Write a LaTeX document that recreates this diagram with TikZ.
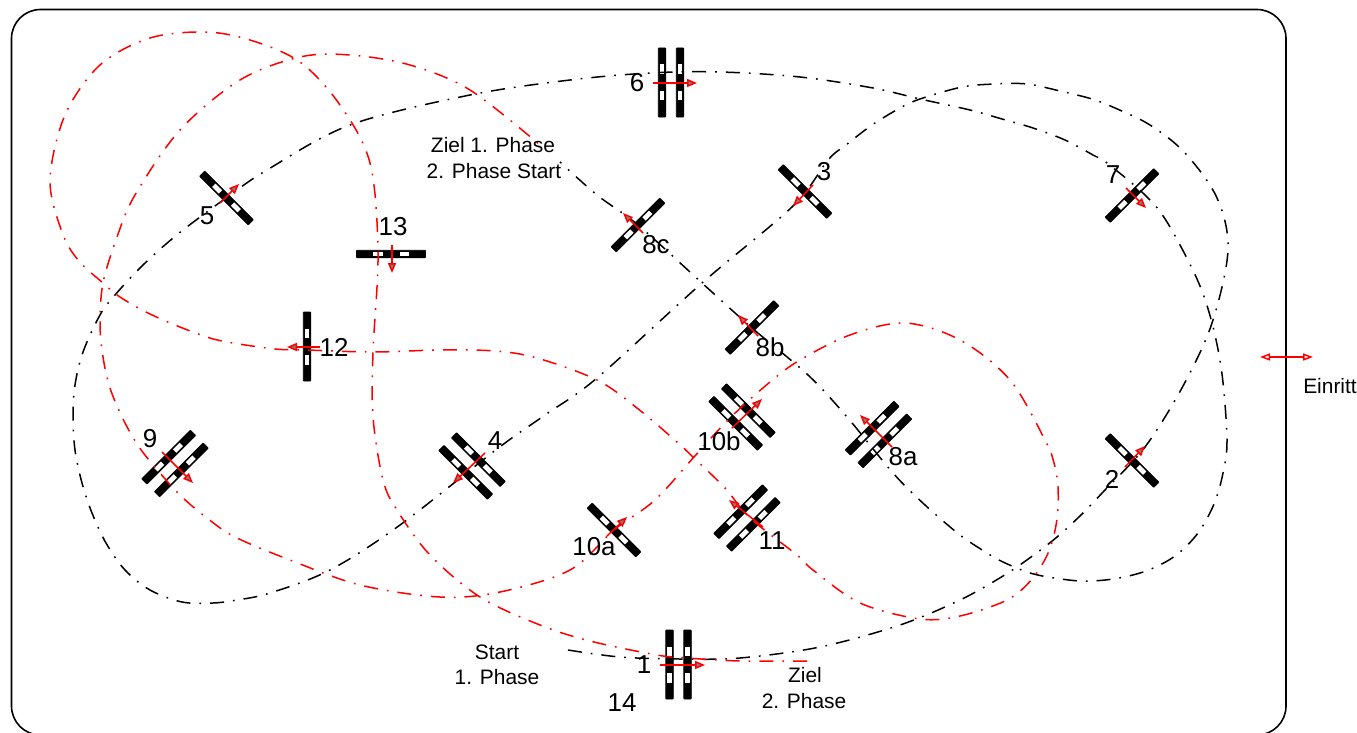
\documentclass[tikz,border=0pt]{standalone}
\usepackage{fontspec}
\setmainfont{Liberation Sans}
\usetikzlibrary{arrows.meta}
\tikzset{
  x=1bp,y=-1bp,
  route/.style={line width=1.5bp,dash pattern=on 14bp off 9bp on 1.7bp off 9bp,smooth,tension=0.55},
  gatearrow/.style={red,line width=1.5bp,-{Triangle[open,length=10bp,width=8bp,fill=gray]}},
  legendarrow/.style={red,line width=1.5bp,{Triangle[open,length=10bp,width=7bp,fill=white]}-{Triangle[open,length=10bp,width=7bp,fill=white]}},
  barbody/.style={fill=black,draw=black,line width=0.6bp,rounded corners=0.6bp,minimum width=69bp,minimum height=7.5bp,inner sep=0pt,transform shape},
  slot/.style={fill=white},
  num/.style={font=\fontsize{26}{28}\selectfont,inner sep=0pt},
  small/.style={font=\fontsize{21}{24}\selectfont,inner sep=0pt,align=center},
  pics/gatebar/.style={code={
    \node[barbody] (-bar) at (0,0) {};
    \fill[slot] (-18,-2.4) rectangle (-8.5,2.4);
    \fill[slot] (8.5,-2.4) rectangle (18,2.4);
  }},
  pics/dualgate/.style={code={
    \node[barbody] (-a) at (0,-9) {};
    \node[barbody] (-b) at (0,9) {};
    \foreach \yy in {-9,9}{
      \fill[slot] (-18,\yy-2.4) rectangle (-8.5,\yy+2.4);
      \fill[slot] (8.5,\yy-2.4) rectangle (18,\yy+2.4);
    }
  }},
}
\begin{document}
\begin{tikzpicture}
\useasboundingbox (0,0) rectangle (1357,732);
\clip (0,0) rectangle (1357,732);
\fill[white] (0,0) rectangle (1357,732);
\draw[line width=1.6bp,rounded corners=29bp] (11.5,9.5) rectangle (1286,735);

% gates
\pic[rotate=90]  (g6)   at (671,82.5)  {dualgate};
\pic[rotate=90]  (g1)   at (678.5,664.5) {dualgate};
\pic[rotate=-45] (g3)   at (805,191.5) {gatebar};
\pic[rotate=45]  (g8c)  at (638,225)   {gatebar};
\pic[rotate=45]  (g8b)  at (752,327.5) {gatebar};
\pic[rotate=45]  (g8a)  at (878.5,434.5) {dualgate};
\pic[rotate=-45] (g10b) at (742,417)   {dualgate};
\pic[rotate=45]  (g11)  at (747,518)   {dualgate};
\pic[rotate=-45] (g5)   at (226.5,198) {gatebar};
\pic[rotate=0]   (g13)  at (391,254)   {gatebar};
\pic[rotate=90]  (g12)  at (307,346.5) {gatebar};
\pic[rotate=45]  (g9)   at (175,463.5) {dualgate};
\pic[rotate=-45] (g4)   at (472,466)   {dualgate};
\pic[rotate=45]  (g7)   at (1132,195.5) {gatebar};
\pic[rotate=-45] (g2)   at (1132,460.5) {gatebar};
\pic[rotate=-45] (g10a) at (614,530)   {gatebar};

% black route
\draw[route,black] plot coordinates {
(568,650) (620,657) (680,659) (740,658) (820,647) (900,625) (960,600) (1003,576) (1031,557) (1057,537) (1082,514) (1104,491)
(1145,447) (1183,386) (1212,323) (1228,250) (1217,198) (1185,153) (1150,125) (1115,108) (1092,99) (1060,91) (1027,84) (995,84)
(962,87) (920,99) (900,108) (872,125) (846,145) (828,160) (793,206) (702,283) (597,378) (545,415) (497,449) (400,525) (330,570)
(270,593) (237,600) (213,603) (182,602) (150,590) (125,570) (106,543) (92,513) (82,483) (75,450) (73,417) (75,385) (83,352)
(100,315) (115,295) (143,265) (178,234) (226,198) (267,170) (350,125) (470,95) (570,80) (650,73) (720,72) (800,77) (873,88)
(920,99) (970,110) (1002,119) (1033,128) (1065,140) (1093,155) (1107,163) (1145,195) (1167,222) (1197,279) (1212,323) (1222,374)
(1227,440) (1223,473) (1214,504) (1198,533) (1175,556) (1146,571) (1113,579) (1081,581) (1048,577) (1027,572) (1003,562) (987,553)
(960,535) (925,505) (893,473) (847,417) (808,375) (752,328) (702,283) (638,225) (597,195) (560,162)};

% red route
\draw[route,red] plot coordinates {
(807,661) (740,661) (687,658) (657,655) (590,641) (540,625) (480,597) (430,555) (397,510) (383,480)
(373,417) (373,352) (378,253) (370,163) (340,105) (300,62) (250,40) (205,32) (150,38) (100,65)
(65,115) (50,180) (62,232) (78,260) (103,283) (120,297) (148,313) (180,327) (210,338) (233,343) (275,349) (307,350) (373,352) (440,350)
(495,351) (537,358) (597,380) (637,408) (677,442) (694,458) (725,488) (750,518) (797,555) (813,570)
(860,603) (920,619) (960,616) (1007,600) (1032,579) (1049,551) (1057,519) (1058,487) (1054,463) (1045,440) (1010,380) (960,340) (905,323)
(850,335) (800,360) (770,382) (730,418) (694,457) (655,500) (614,530) (570,570) (500,592) (440,597)
(360,585) (290,560) (235,537) (207,518) (182,497) (160,473) (139,447) (123,419) (110,388) (103,357) (100,323) (103,283) (117,237) (135,195) (180,130)
(240,80) (300,57) (350,55) (410,65) (470,90) (540,145)};

% passage arrows
\draw[gatearrow] (653,83) -- (697,83);
\draw[gatearrow] (660,665) -- (705,665);
\draw[gatearrow] (813,185) -- (793,206);
\draw[gatearrow] (643,233) -- (623,213);
\draw[gatearrow] (758,336) -- (738,315);
\draw[gatearrow] (892,447) -- (860,415);
\draw[gatearrow] (732,428) -- (762,399);
\draw[gatearrow] (763,527) -- (729,500);
\draw[gatearrow] (220,203) -- (239,184);
\draw[gatearrow] (392,245) -- (392,273);
\draw[gatearrow] (320,347) -- (287,347);
\draw[gatearrow] (162,452) -- (193,483);
\draw[gatearrow] (485,453) -- (453,483);
\draw[gatearrow] (1126,188) -- (1146,208);
\draw[gatearrow] (1125,467) -- (1145,446);
\draw[gatearrow] (607,536) -- (627,517);
\draw[legendarrow] (1260,357) -- (1313,357);

% numbers
\node[num] (n6) at (637,83) {6};
\node[num] (n3) at (824,172) {3};
\node[num] (n7) at (1113,175) {7};
\node[num] (n5) at (207,216) {5};
\node[num] (n13) at (393,227) {13};
\node[num] (n12) at (334,347) {12};
\node[num] (n9) at (150,439) {9};
\node[num] (n4) at (495,441) {4};
\node[num] (n8c) at (656,245) {8c};
\node[num] (n8b) at (770,347) {8b};
\node[num] (n10b) at (719,441) {10b};
\node[num] (n8a) at (903,457) {8a};
\node[num] (n11) at (772,541) {11};
\node[num] (n10a) at (594,547) {10a};
\node[num] (n2) at (1112,479) {2};
\node[num] (n1) at (644,665) {1};
\node[num] (n14) at (622,703) {14};

% captions
\node[small] (t1) at (493,145) {Ziel 1. Phase};
\node[small] (t2) at (494,171) {2. Phase Start};
\node[small] (t3) at (497,652) {Start};
\node[small] (t4) at (497,677) {1. Phase};
\node[small] (t5) at (805,675) {Ziel};
\node[small] (t6) at (804,701) {2. Phase};
\node[small] (t7) at (1330,386) {Einritt};
\end{tikzpicture}
\end{document}
